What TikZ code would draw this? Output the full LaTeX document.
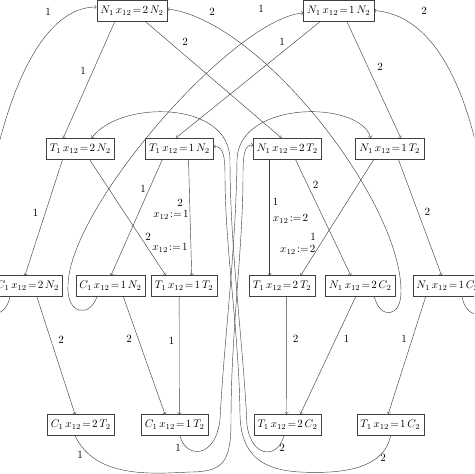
\documentclass[tikz,border=0pt]{standalone}
\usepackage{amsmath}
\usepackage{tikz}
\usetikzlibrary{calc}

\tikzset{
	st/.style={draw=black!75, inner xsep=3.3pt, minimum height=19pt},
	ed/.style={->, draw=black!75},
	lbl/.style={inner sep=1pt},
}

\begin{document}
\begin{tikzpicture}[x=.91pt, y=-.91pt]
	\useasboundingbox (0,0) rectangle (474,474);
	\clip (0,0) rectangle (474,474);
	
	% states
	\node[st] (n2n) at (132,10.5) {$N_1\,x_{12}\!=\!2\,N_2$};
	\node[st] (n1n) at (338.7,10.5) {$N_1\,x_{12}\!=\!1\,N_2$};
	
	\node[st] (t2n) at (80.3,148.5) {$T_1\,x_{12}\!=\!2\,N_2$};
	\node[st] (t1n) at (179.5,148.5) {$T_1\,x_{12}\!=\!1\,N_2$};
	\node[st] (n2t) at (287.3,148.5) {$N_1\,x_{12}\!=\!2\,T_2$};
	\node[st] (n1t) at (389.7,148.5) {$N_1\,x_{12}\!=\!1\,T_2$};
	
	\node[st] (c2n) at (27.8,286) {$C_1\,x_{12}\!=\!2\,N_2$};
	\node[st] (c1n) at (110.5,286) {$C_1\,x_{12}\!=\!1\,N_2$};
	\node[st] (t1t) at (184.2,286) {$T_1\,x_{12}\!=\!1\,T_2$};
	\node[st] (t2t) at (282.2,286) {$T_1\,x_{12}\!=\!2\,T_2$};
	\node[st] (n2c) at (360.3,286) {$N_1\,x_{12}\!=\!2\,C_2$};
	\node[st] (n1c) at (447.5,286) {$N_1\,x_{12}\!=\!1\,C_2$};
	
	\node[st] (c2t) at (80.8,425) {$C_1\,x_{12}\!=\!2\,T_2$};
	\node[st] (c1t) at (174.7,425) {$C_1\,x_{12}\!=\!1\,T_2$};
	\node[st] (t2c) at (287.5,424.5) {$T_1\,x_{12}\!=\!2\,C_2$};
	\node[st] (t1c) at (390.3,424.5) {$T_1\,x_{12}\!=\!1\,C_2$};
	
	% N -> T
	\draw[ed] ($(n2n.south)+(-17,0)$) -- ($(t2n.north)+(-17,0)$) node[lbl] at (83,71) {1};
	\draw[ed] ($(n2n.south)+(13,0)$) -- ($(n2t.north)+(-6,0)$) node[lbl] at (185,42) {2};
	\draw[ed] ($(n1n.south)+(-18,0)$) -- ($(t1n.north)+(-3.5,0)$) node[lbl] at (282,42) {1};
	\draw[ed] ($(n1n.south)+(8,0)$) -- ($(n1t.north)+(11,0)$) node[lbl] at (380,67) {2};
	
	% T -> C, T -> T
	\draw[ed] ($(t2n.south)+(-17.6,0)$) -- ($(c2n.north)+(-2.8,0)$) node[lbl] at (35.7,213) {1};
	\draw[ed] ($(t2n.south)+(9,0)$) -- ($(t1t.north)+(-18.5,0)$)
		node[lbl] at (148,237) {2} node[lbl] at (170,248) {$x_{12}\!:=\!1$};
	\draw[ed] ($(t1n.south)+(9,0)$) -- ($(t1t.north)+(7.5,0)$)
		node[lbl] at (180,203) {2} node[lbl] at (171,215) {$x_{12}\!:=\!1$};
	\draw[ed] ($(t1n.south)+(-17,0)$) -- ($(c1n.north)+(.5,0)$) node[lbl] at (143,189) {1};
	\draw[ed] ($(n2t.south)+(-17.6,0)$) -- ($(t2t.north)+(-12.5,0)$)
		node[lbl] at (275.7,201.7) {1} node[lbl] at (290.5,219) {$x_{12}\!:=\!2$};
	\draw[ed] ($(n2t.south)+(8,0)$) -- ($(n2c.north)+(-9.6,0)$) node[lbl] at (315.7,185) {2};
	\draw[ed] ($(n1t.south)+(-15.7,0)$) -- ($(t2t.north)+(18.5,0)$)
		node[lbl] at (313,236.7) {1} node[lbl] at (297.8,250) {$x_{12}\!:=\!2$};
	\draw[ed] ($(n1t.south)+(8.6,0)$) -- ($(n1c.north)+(-6,0)$) node[lbl] at (427.3,211.7) {2};
	
	\draw[ed] ($(c2n.south)+(9,0)$) -- ($(c2t.north)+(-5.8,0)$) node[lbl] at (61,340) {2};
	\draw[ed] ($(c1n.south)+(12.8,0)$) -- ($(c1t.north)+(-9.7,0)$) node[lbl] at (129,339.3) {2};
	\draw[ed] ($(t1t.south)+(-5,0)$) -- ($(c1t.north)+(4.6,0)$) node[lbl] at (171.7,340.7) {1};
	\draw[ed] ($(t2t.south)+(4.5,0)$) -- ($(t2c.north)+(-1,0)$) node[lbl] at (295.7,339.3) {2};
	\draw[ed] ($(n2c.south)+(-4.6,0)$) -- ($(t2c.north)+(13,0)$) node[lbl] at (346.7,339.3) {1};
	\draw[ed] ($(n1c.south)+(-21.8,0)$) -- ($(t1c.north)+(-2,0)$) node[lbl] at (404,339.3) {1};
	
	% leaving C, back to N
	\draw[ed] ($(c2n.south)+(-17.8,0)$) .. controls (6,318) and (-18,325) .. (-20,280)
		.. controls (-20,200) and (15,7) .. ($(n2n.west)+(0,-3.5)$) node[lbl] at (48,12) {1};
	\draw[ed] ($(n2c.south)+(14,0)$) .. controls (380,320) and (402,318) .. (401,290)
		.. controls (400,200) and (260,20) .. ($(n2n.east)+(0,-1.5)$) node[lbl] at (212,12) {2};
	\draw[ed] ($(c1n.south)+(-13.5,0)$) .. controls (90,318) and (66,315) .. (68,285)
		.. controls (70,205) and (235,18) .. ($(n1n.west)+(0,2.5)$) node[lbl] at (261,9) {1};
	\draw[ed] ($(n1c.south)+(14.5,0)$) .. controls (466,320) and (492,324) .. (492,285)
		.. controls (492,200) and (470,18) .. (n1n.east) node[lbl] at (424,11) {2};
	
	% the bundle in the middle
	\draw[ed] ($(c1t.south)+(5.3,0)$) .. controls (185,458) and (215,460) .. (220,420)
		.. controls (224,340) and (236,250) .. (237,160)
		.. controls (238,100) and (360,100) .. ($(n1t.north)+(-19,0)$) node[lbl] at (178,448) {1};
	\draw[ed] ($(c2t.south)+(-5.8,0)$) .. controls (95,478) and (150,474) .. (190,472)
		.. controls (225,472) and (231,460) .. (231,420)
		.. controls (231,330) and (243,250) .. (243,175)
		.. controls (243,152) and (245,145) .. ($(n2t.west)+(0,-3.5)$) node[lbl] at (80,455) {1};
	\draw[ed] ($(t1c.south)+(.4,0)$) .. controls (384,470) and (340,474) .. (300,472)
		.. controls (262,470) and (241,455) .. (240,415)
		.. controls (239,330) and (225,250) .. (225,175)
		.. controls (225,152) and (222,146.5) .. ($(t1n.east)+(0,-2)$) node[lbl] at (383,458) {2};
	\draw[ed] ($(t2c.south)+(-3.5,0)$) .. controls (279,458) and (252,460) .. (247,425)
		.. controls (243,340) and (230,250) .. (230,160)
		.. controls (230,100) and (120,100) .. ($(t2n.north)+(11.5,0)$) node[lbl] at (282,448) {2};
	
\end{tikzpicture}
\end{document}
